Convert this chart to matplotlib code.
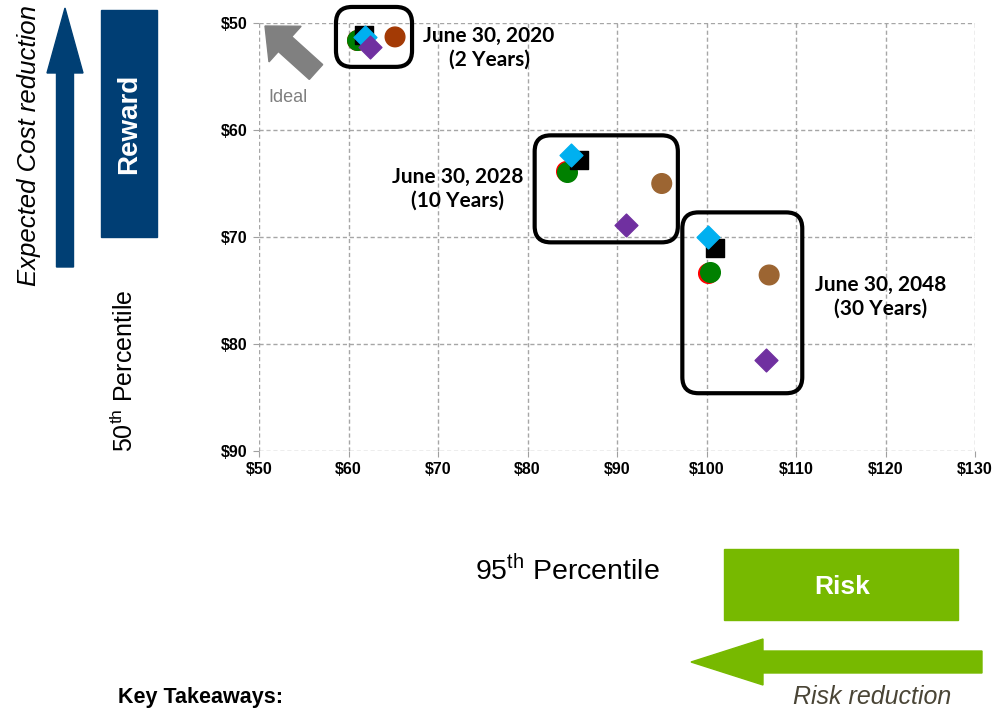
import numpy as np
import matplotlib
matplotlib.use('Agg')
import matplotlib.pyplot as plt
from matplotlib.patches import FancyArrow, FancyBboxPatch, Rectangle
from matplotlib.ticker import FuncFormatter

plt.rcParams['font.family'] = ['Liberation Sans', 'DejaVu Sans']
plt.rcParams['mathtext.fontset'] = 'custom'
plt.rcParams['mathtext.rm'] = 'Liberation Sans'

# 95th percentile (x) vs 50th percentile (y), points for 2020 / 2028 / 2048
red_x = [60.9, 84.3, 100.2]
red_y = [51.6, 63.8, 73.4]
green_x = [60.9, 84.4, 100.4]
green_y = [51.6, 63.9, 73.3]
brown_x = [65.2, 95.0, 107.0]
brown_y = [51.3, 65.0, 73.55]
brown_colors = ['#A33A05', '#9C6532', '#9C6532']
black_x = [61.7, 85.75, 100.95]
black_y = [51.1, 62.8, 71.05]
cyan_x = [61.8, 84.9, 100.2]
cyan_y = [51.3, 62.3, 70.0]
purple_x = [62.4, 91.0, 106.7]
purple_y = [52.2, 68.9, 81.5]

x_ticks = [50, 60, 70, 80, 90, 100, 110, 120, 130]
y_ticks = [50, 60, 70, 80, 90]

group_labels = ['June 30, 2020\n(2 Years)', 'June 30, 2028\n(10 Years)', 'June 30, 2048\n(30 Years)']
label_pos = [(75.7, 52.3), (72.2, 65.5), (119.5, 75.6)]
# box extents: x0, x1, y0, y1
boxes = [(58.6, 67.1, 48.5, 54.1), (80.8, 96.8, 60.5, 70.5), (97.3, 110.7, 67.7, 84.6)]

W, H = 996, 708
fig = plt.figure(figsize=(W / 100, H / 100), dpi=100)
ax = fig.add_axes([259 / W, 1 - 451 / H, (975 - 259) / W, (451 - 23) / H])

ax.scatter(red_x, red_y, s=200, color='#FF0000', marker='o', zorder=3)
ax.scatter(green_x, green_y, s=200, color='#008000', marker='o', zorder=4)
ax.scatter(brown_x, brown_y, s=200, color=brown_colors, marker='o', zorder=4)
ax.scatter(black_x, black_y, s=175, color='black', marker='s', zorder=5)
ax.scatter(cyan_x, cyan_y, s=135, color='#00B0F0', marker='D', zorder=6)
ax.scatter(purple_x, purple_y, s=135, color='#7030A0', marker='D', zorder=7)

ax.set_xlim(50, 130)
ax.set_ylim(90, 50)
ax.set_xticks(x_ticks)
ax.set_yticks(y_ticks)
ax.xaxis.set_major_formatter(FuncFormatter(lambda v, p: '\\$%d' % v))
ax.yaxis.set_major_formatter(FuncFormatter(lambda v, p: '\\$%d' % v))
for lab in ax.get_xticklabels() + ax.get_yticklabels():
    lab.set_fontweight('bold')
    lab.set_fontsize(11.5)
ax.tick_params(axis='both', length=4, color='#A0A0A0', pad=4)
ax.grid(True, color='#A6A6A6', linestyle=(0, (3, 2)), linewidth=1)
for sp in ax.spines.values():
    sp.set_visible(False)

# rounded boxes around each date group
xr = 8.95 / 10.7
for (x0, x1, y0, y1) in boxes:
    ax.add_patch(FancyBboxPatch((x0, y0), x1 - x0, y1 - y0,
                                boxstyle='round,pad=0,rounding_size=1.8',
                                mutation_aspect=xr, fill=False, edgecolor='black',
                                linewidth=3, clip_on=False, zorder=8))

for lab, (lx, ly) in zip(group_labels, label_pos):
    ax.text(lx, ly, lab, ha='center', va='center', fontsize=15, fontweight='bold',
            family='Lato', linespacing=1.25, zorder=9)

# helper: pixel coordinates (from top-left) into inches for dpi_scale_trans
def px(x, y):
    return x / 100, (H - y) / 100

tr = fig.dpi_scale_trans

# Ideal arrow
x0, y0 = px(316, 72)
x1, y1 = px(265, 26)
fig.add_artist(FancyArrow(x0, y0, x1 - x0, y1 - y0, width=0.2, head_width=0.48,
                          head_length=0.27, length_includes_head=True,
                          color='#808080', transform=tr))
fig.text(288 / W, 1 - 97 / H, 'Ideal', color='#7F7F7F', fontsize=13, ha='center', va='center')

# Expected Cost reduction arrow and Reward box
x0, y0 = px(65, 267)
x1, y1 = px(65, 8)
fig.add_artist(FancyArrow(x0, y0, 0, y1 - y0, width=0.17, head_width=0.36,
                          head_length=0.65, length_includes_head=True,
                          color='#003F74', transform=tr))
fig.text(29 / W, 1 - 145 / H, 'Expected Cost reduction', rotation=90, style='italic',
         fontsize=18.5, ha='center', va='center')
bx, by = px(101, 237)
fig.add_artist(Rectangle((bx, by), 0.56, 2.27, color='#003E74', transform=tr))
fig.text(129 / W, 1 - 124 / H, 'Reward', rotation=90, color='white', fontweight='bold',
         fontsize=20, ha='center', va='center')

fig.text(124 / W, 1 - 371 / H, '50$^{\\mathrm{th}}$ Percentile', rotation=90,
         fontsize=18, ha='center', va='center')
fig.text(567 / W, 1 - 570 / H, '95$^{\\mathrm{th}}$ Percentile',
         fontsize=20.5, ha='center', va='center')

# Risk box and Risk reduction arrow
rx, ry = px(724, 620)
fig.add_artist(Rectangle((rx, ry), 2.34, 0.71, color='#77B900', transform=tr))
fig.text(842 / W, 1 - 587 / H, 'Risk', color='white', fontweight='bold',
         fontsize=19, ha='center', va='center')
x0, y0 = px(982, 662)
x1, y1 = px(691, 662)
fig.add_artist(FancyArrow(x0, y0, x1 - x0, 0, width=0.22, head_width=0.46,
                          head_length=0.72, length_includes_head=True,
                          color='#77B900', transform=tr))
fig.text(872 / W, 1 - 697 / H, 'Risk reduction', style='italic', color='#4A4536',
         fontsize=18, ha='center', va='center')

fig.text(118 / W, 1 - 697 / H, 'Key Takeaways:', fontweight='bold', fontsize=15.5,
         ha='left', va='center')

fig.savefig('out.png', dpi=100)
